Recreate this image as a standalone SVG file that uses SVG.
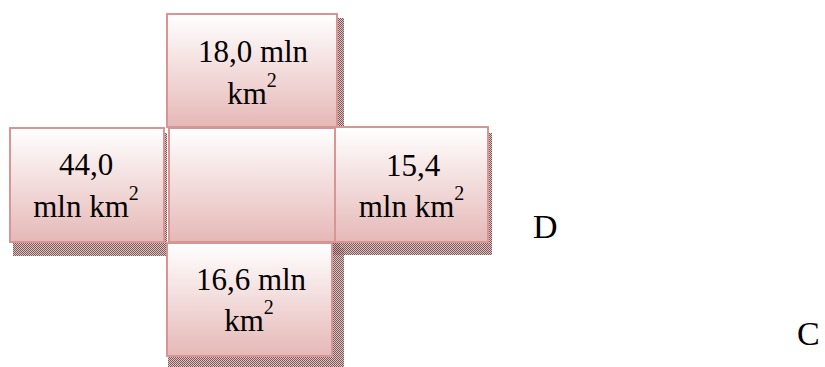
<svg xmlns="http://www.w3.org/2000/svg" width="825" height="367" viewBox="0 0 825 367">
  <defs>
    <linearGradient id="fillGrad" x1="0" y1="0" x2="0" y2="1">
      <stop offset="0" stop-color="#ffffff"/>
      <stop offset="0.5" stop-color="#f2dcdb"/>
      <stop offset="1" stop-color="#e5b8b7"/>
    </linearGradient>
    <pattern id="shadowPat" x="0" y="0" width="2" height="2" patternUnits="userSpaceOnUse">
      <rect x="0" y="0" width="2" height="2" fill="#bfa0a0" fill-opacity="0.6"/>
      <rect x="0" y="0" width="1" height="1" fill="#6e3a3a" fill-opacity="0.8"/>
      <rect x="1" y="1" width="1" height="1" fill="#6e3a3a" fill-opacity="0.8"/>
    </pattern>
  </defs>
  <style>
    .box { fill: url(#fillGrad); stroke: #d99594; stroke-width: 2; }
    .shadow { fill: url(#shadowPat); }
    .lbl { font-family: "Liberation Serif", "Times New Roman", serif; font-size: 31px; fill: #000000; text-anchor: middle; }
    .sup { font-size: 20px; }
    .letter { font-family: "Liberation Serif", "Times New Roman", serif; font-size: 34px; fill: #000000; }
  </style>
  <rect width="825" height="367" fill="#ffffff"/>

  <g id="shadows">
    <rect class="shadow" x="13" y="133" width="154" height="123"/>
    <rect class="shadow" x="333" y="133" width="159" height="122"/>
    <rect class="shadow" x="172" y="18" width="172" height="114"/>
    <rect class="shadow" x="174" y="133" width="166" height="122"/>
    <rect class="shadow" x="168" y="248" width="176" height="119"/>
  </g>

  <g id="connectors"></g>

  <g id="node-top">
    <rect class="box" x="167" y="14" width="170" height="113"/>
    <text class="lbl" x="253" y="62">18,0 mln</text>
    <text class="lbl" x="252" y="104">km<tspan class="sup" dy="-17">2</tspan></text>
  </g>

  <g id="node-center">
    <rect class="box" x="169" y="128" width="166" height="114"/>
  </g>

  <g id="node-left">
    <rect class="box" x="10" y="128" width="154" height="114"/>
    <text class="lbl" x="86" y="175">44,0</text>
    <text class="lbl" x="86" y="217">mln km<tspan class="sup" dy="-17">2</tspan></text>
  </g>

  <g id="node-right">
    <rect class="box" x="335" y="127" width="153" height="115"/>
    <text class="lbl" x="413" y="176">15,4</text>
    <text class="lbl" x="411.5" y="217">mln km<tspan class="sup" dy="-17">2</tspan></text>
  </g>

  <g id="node-bottom">
    <rect class="box" x="167" y="243" width="165" height="113"/>
    <text class="lbl" x="251" y="290">16,6 mln</text>
    <text class="lbl" x="249" y="331">km<tspan class="sup" dy="-17">2</tspan></text>
  </g>

  <g id="label-D">
    <text class="letter" x="533" y="238">D</text>
  </g>
  <g id="label-C">
    <text class="letter" x="797" y="345">C</text>
  </g>
</svg>
